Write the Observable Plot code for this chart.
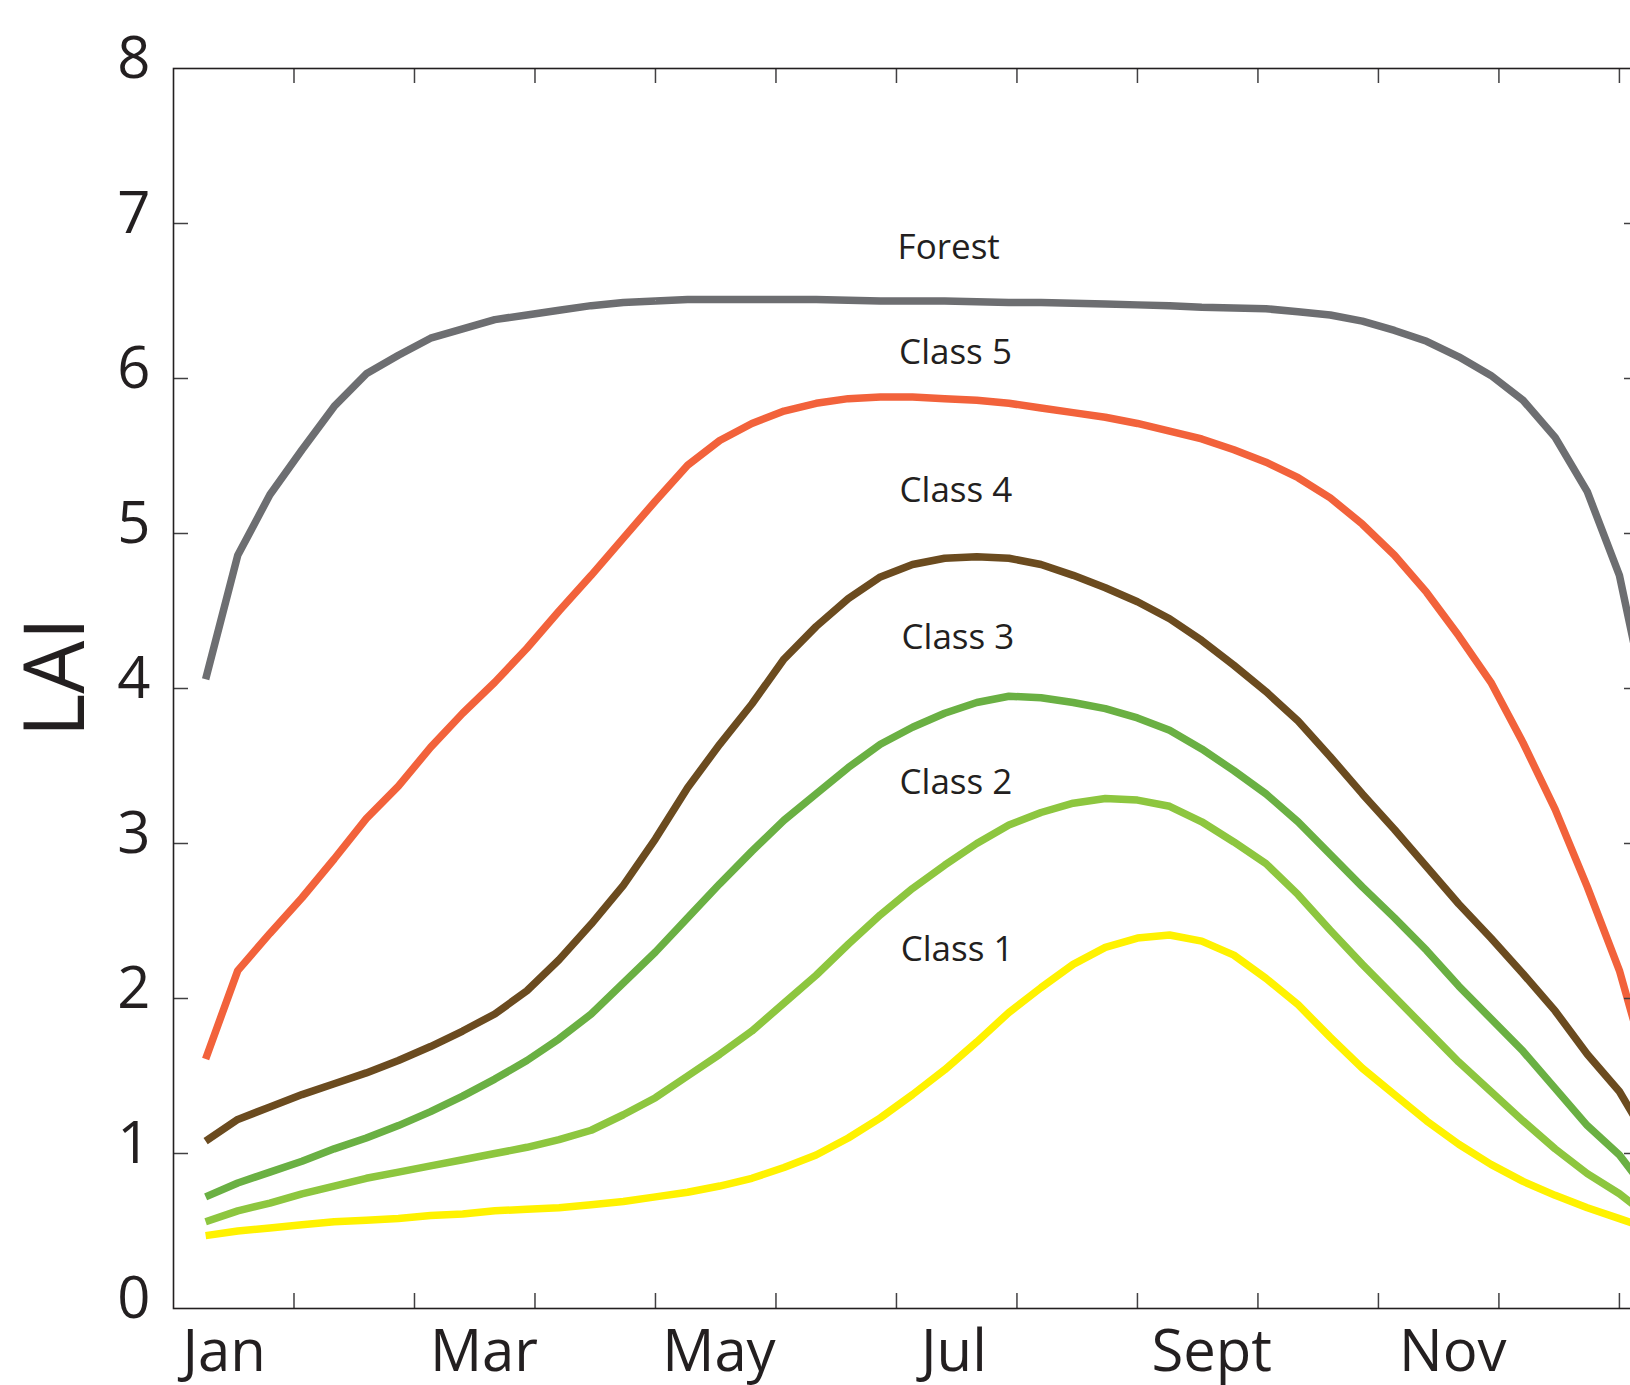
<!DOCTYPE html>
<html><head><meta charset="utf-8">
<script src="https://cdn.jsdelivr.net/npm/d3@7"></script>
<script src="https://cdn.jsdelivr.net/npm/@observablehq/plot@0.6"></script>
<style>html,body{margin:0;padding:0;overflow:hidden;background:#fff} svg{max-width:none !important;}</style>
</head><body><div id="chart"></div>
<script>
// 8-day composite positions (day of year)
const days = [8,16,24,32,40,48,56,64,72,80,88,96,104,112,120,128,136,144,152,160,168,176,184,192,200,208,216,224,232,240,248,256,264,272,280,288,296,304,312,320,328,336,344,352,360,368];

const forest = [4.06,4.86,5.25,5.54,5.82,6.03,6.15,6.26,6.32,6.38,6.41,6.44,6.47,6.49,6.50,6.51,6.51,6.51,6.51,6.51,6.505,6.50,6.50,6.50,6.495,6.49,6.49,6.485,6.48,6.475,6.47,6.46,6.455,6.45,6.43,6.41,6.37,6.31,6.24,6.14,6.02,5.86,5.62,5.27,4.73,3.75];
const class5 = [1.61,2.18,2.42,2.65,2.90,3.16,3.37,3.62,3.84,4.04,4.26,4.50,4.73,4.97,5.21,5.44,5.60,5.71,5.79,5.84,5.87,5.88,5.88,5.87,5.86,5.84,5.81,5.78,5.75,5.71,5.66,5.61,5.54,5.46,5.36,5.23,5.06,4.86,4.62,4.34,4.04,3.65,3.22,2.72,2.18,1.45];
const class4 = [1.08,1.22,1.30,1.38,1.45,1.52,1.60,1.69,1.79,1.90,2.05,2.25,2.48,2.73,3.03,3.36,3.64,3.90,4.19,4.40,4.58,4.72,4.80,4.84,4.85,4.84,4.80,4.73,4.65,4.56,4.45,4.31,4.15,3.98,3.79,3.56,3.32,3.09,2.85,2.61,2.39,2.16,1.92,1.64,1.40,1.05];
const class3 = [0.72,0.81,0.88,0.95,1.03,1.10,1.18,1.27,1.37,1.48,1.60,1.74,1.90,2.10,2.30,2.52,2.74,2.95,3.15,3.32,3.49,3.64,3.75,3.84,3.91,3.95,3.94,3.91,3.87,3.81,3.73,3.61,3.47,3.32,3.14,2.93,2.72,2.52,2.31,2.08,1.87,1.66,1.42,1.18,0.99,0.72];
const class2 = [0.56,0.63,0.68,0.74,0.79,0.84,0.88,0.92,0.96,1.00,1.04,1.09,1.15,1.25,1.36,1.50,1.64,1.79,1.97,2.15,2.35,2.54,2.71,2.86,3.00,3.12,3.20,3.26,3.29,3.28,3.24,3.14,3.01,2.87,2.67,2.44,2.22,2.01,1.80,1.59,1.40,1.21,1.03,0.87,0.74,0.58];
const class1 = [0.47,0.50,0.52,0.54,0.56,0.57,0.58,0.60,0.61,0.63,0.64,0.65,0.67,0.69,0.72,0.75,0.79,0.84,0.91,0.99,1.10,1.23,1.38,1.54,1.72,1.91,2.07,2.22,2.33,2.39,2.41,2.37,2.28,2.13,1.96,1.75,1.55,1.38,1.21,1.06,0.93,0.82,0.73,0.65,0.58,0.51];

const seriesNames = ["Forest","Class 5","Class 4","Class 3","Class 2","Class 1"];
const seriesValues = [forest, class5, class4, class3, class2, class1];
const seriesColors = ["#6d6e71","#f2623b","#6b4b1f","#6ab043","#8dc63f","#fff200"];

// series label anchor (day, LAI)
const labelDays = [193, 194.7, 194.8, 195.3, 194.8, 195.1];
const labelValues = [6.845, 6.166, 5.278, 4.326, 3.394, 2.314];

const yTickValues = [1,2,3,4,5,6,7];
const yLabelValues = [0,1,2,3,4,5,6,7,8];
const xTickDays = [30,60,90,120,150,180,210,240,270,300,330,360];
const monthLabels = ["Jan","Mar","May","Jul","Sept","Nov"];
const monthLabelDays = [12.6, 77.3, 135.8, 194.3, 258.5, 318.5];

const rows = seriesNames.flatMap((s, k) => days.map((d, i) => ({series: s, day: d, lai: seriesValues[k][i]})));
const labelRows = seriesNames.map((s, k) => ({series: s, day: labelDays[k], lai: labelValues[k]}));
const monthRows = monthLabels.map((m, i) => ({label: m, day: monthLabelDays[i]}));

const W = 1650, H = 1385, mL = 173, mR = 11, mT = 68, mB = 77;
const xDomain = [0, 365], yDomain = [0, 8];
const pxPerDay = (W - mL - mR) / (xDomain[1] - xDomain[0]);
const pxPerUnit = (H - mT - mB) / (yDomain[1] - yDomain[0]);
const tickPx = 15;
const tx = tickPx / pxPerDay, ty = tickPx / pxPerUnit;
const ink = "#231f20", tickInk = "#414042";

const chart = Plot.plot({
  width: W, height: H,
  marginLeft: mL, marginRight: mR, marginTop: mT, marginBottom: mB,
  x: {domain: xDomain, axis: null},
  y: {domain: yDomain, axis: null},
  color: {domain: seriesNames, range: seriesColors},
  style: {fontFamily: "'Open Sans', sans-serif", color: ink, background: "white", maxWidth: "none"},
  marks: [
    Plot.line(rows, {x: "day", y: "lai", z: "series", stroke: "series", strokeWidth: 7.5, strokeLinecap: "butt", strokeLinejoin: "miter"}),
    Plot.ruleX(xTickDays, {x: d => d, y1: yDomain[0], y2: yDomain[0] + ty, stroke: tickInk, strokeWidth: 1.5}),
    Plot.ruleX(xTickDays, {x: d => d, y1: yDomain[1] - ty, y2: yDomain[1], stroke: tickInk, strokeWidth: 1.5}),
    Plot.ruleY(yTickValues, {y: d => d, x1: xDomain[0], x2: xDomain[0] + tx, stroke: tickInk, strokeWidth: 1.5}),
    Plot.ruleY(yTickValues, {y: d => d, x1: xDomain[1] - tx, x2: xDomain[1], stroke: tickInk, strokeWidth: 1.5}),
    Plot.frame({stroke: ink, strokeWidth: 1.6}),
    Plot.text(yLabelValues, {frameAnchor: "left", y: d => d, text: d => String(d), textAnchor: "end", lineAnchor: "middle", dx: -23, dy: -9, fontSize: 58, fill: ink}),
    Plot.text(monthRows, {x: "day", frameAnchor: "bottom", text: "label", lineAnchor: "top", dy: 21, fontSize: 58, fill: ink}),
    Plot.text(["LAI"], {frameAnchor: "left", text: d => d, rotate: -90, dx: -116, dy: 49, fontSize: 84, fill: ink}),
    Plot.text(labelRows, {x: "day", y: "lai", text: "series", fontSize: 35, textAnchor: "middle", lineAnchor: "middle", fill: ink})
  ]
});
document.getElementById("chart").appendChild(chart);
</script>
</body></html>
